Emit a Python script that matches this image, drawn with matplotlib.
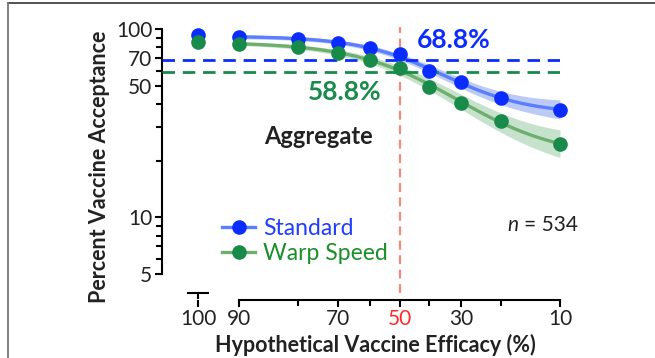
import matplotlib
matplotlib.use("Agg")
import matplotlib.pyplot as plt
import matplotlib.ticker as mticker
import matplotlib.transforms as mtransforms
from matplotlib.lines import Line2D
import numpy as np

# Datos
efficacy = [100, 90, 80, 70, 60, 50, 40, 30, 20, 10]
standard = [93.0, 91.0, 88.5, 84.0, 79.0, 73.5, 60.2, 52.0, 43.0, 37.3]
warp = [85.7, 83.3, 80.0, 74.9, 68.5, 61.9, 49.5, 40.4, 32.3, 24.6]

# semi-ancho de la banda de confianza (log10) para 90..10
standard_ci = [0.010, 0.011, 0.012, 0.014, 0.016, 0.019, 0.026, 0.037, 0.050]
warp_ci = [0.010, 0.012, 0.016, 0.018, 0.021, 0.032, 0.042, 0.053, 0.072]

standard_50 = 68.8
warp_50 = 58.8
n_total = 534

BLUE = "#0a2cff"
GREEN = "#188a4a"
BLUE_LINE = "#5b7dff"
GREEN_LINE = "#6cb06c"
BLUE_BAND = "#bccaf6"
GREEN_BAND = "#c6e2cd"
RED = "#f4897c"

plt.rcParams['font.family'] = ['Lato', 'DejaVu Sans']

W, H = 655, 358
def fx(px):
    return px / W
def fy(py):
    return 1 - py / H

# escala logit para 10..90 y tramo lineal para el punto de 100
L90 = np.log(0.9 / 0.1)
K = 0.0563
def fwd(x):
    x = np.asarray(x, dtype=float)
    p = np.clip(x / 100.0, 1e-6, 0.9)
    lg = np.log(p / (1 - p))
    return np.where(x > 90, L90 + (x - 90) * K, lg)

def inv(y):
    y = np.asarray(y, dtype=float)
    lin = 90 + (y - L90) / K
    yc = np.clip(y, -50, L90)
    lg = 100.0 / (1 + np.exp(-yc))
    return np.where(y > L90, lin, lg)

# ajuste sigmoide: log10(y) = a + b*tanh(c*(t-d))
def fit_sigmoid(t, v):
    best = None
    for c in np.linspace(0.2, 3.0, 57):
        for d in np.linspace(-3, 3, 121):
            A = np.column_stack([np.ones_like(t), np.tanh(c * (t - d))])
            coef, res, *_ = np.linalg.lstsq(A, v, rcond=None)
            r = np.sum((A @ coef - v) ** 2)
            if best is None or r < best[0]:
                best = (r, coef[0], coef[1], c, d)
    return best[1:]

fig = plt.figure(figsize=(6.55, 3.58), dpi=100)
ax = fig.add_axes([fx(162), fy(274), (560 - 162) / W, (274 - 29) / H])
ax.set_xscale('function', functions=(fwd, inv))
ax.set_yscale('log')
ax.set_xlim(108.8, 10)
ax.set_ylim(5, 100)

eff = np.array(efficacy[1:], dtype=float)
t = np.log((eff / 100) / (1 - eff / 100))
tt = np.linspace(t.max(), t.min(), 200)
eff_d = 100 / (1 + np.exp(-tt))

for vals, ci, lc, bc in [(standard, standard_ci, BLUE_LINE, BLUE_BAND),
                         (warp, warp_ci, GREEN_LINE, GREEN_BAND)]:
    a, b, c, d = fit_sigmoid(t, np.log10(vals[1:]))
    m = a + b * np.tanh(c * (tt - d))
    h = np.polyval(np.polyfit(t, ci, 2), tt)
    ax.fill_between(eff_d, 10 ** (m - h), 10 ** (m + h), color=bc, lw=0, zorder=1)
    ax.plot(eff_d, 10 ** m, color=lc, lw=2.4, zorder=2)

ax.axhline(standard_50, color=BLUE, lw=2, ls=(0, (4.5, 2.8)), zorder=3)
ax.axhline(warp_50, color=GREEN, lw=2, ls=(0, (4.5, 2.8)), zorder=3)
ax.axvline(50, ymin=0 - 19 / 245, ymax=1.01, color=RED, lw=1.6,
           ls=(0, (4, 2.5)), clip_on=False, zorder=3)

ax.plot(efficacy, standard, 'o', color=BLUE, ms=9.5, zorder=5, clip_on=False)
ax.plot(efficacy, warp, 'o', color=GREEN, ms=9.5, zorder=5, clip_on=False)

# ejes estilo prism
for s in ['top', 'right']:
    ax.spines[s].set_visible(False)
ax.spines['left'].set_linewidth(1.5)
ax.spines['bottom'].set_linewidth(1.5)
ax.spines['bottom'].set_position(('outward', 19))
ax.spines['bottom'].set_bounds(90, 10)
ax.spines['left'].set_bounds(5, 100)

# tramo corto del eje para el 100
off = ax.get_xaxis_transform() + mtransforms.ScaledTranslation(0, -19 / 100, fig.dpi_scale_trans)
ax.plot([97.5, 102.5], [0, 0], color='black', lw=1.5, transform=off, clip_on=False)
ax.plot([100, 100], [0, -0.022], color='black', lw=1.5, transform=off, clip_on=False)

ax.xaxis.set_major_locator(mticker.FixedLocator([100, 90, 70, 50, 30, 10]))
ax.xaxis.set_minor_locator(mticker.FixedLocator([80, 60, 40, 20]))
ax.xaxis.set_major_formatter(mticker.FixedFormatter(['100', '90', '70', '50', '30', '10']))
ax.xaxis.set_minor_formatter(mticker.NullFormatter())
ax.yaxis.set_major_locator(mticker.FixedLocator([5, 10, 50, 70, 100]))
ax.yaxis.set_minor_locator(mticker.FixedLocator([6, 7, 8, 9, 20, 30, 40, 60, 80, 90]))
ax.yaxis.set_major_formatter(mticker.FixedFormatter(['5', '10', '50', '70', '100']))
ax.yaxis.set_minor_formatter(mticker.NullFormatter())
ax.tick_params(which='major', length=5, width=1.5, labelsize=15, colors='black',
               labelcolor='#222222', pad=2)
ax.tick_params(axis='x', which='major', pad=1)
ax.tick_params(which='minor', length=4, width=1.5)
for lab in ax.get_xticklabels():
    if lab.get_text() == '50':
        lab.set_color('#ff2a2a')

fig.text(fx(375), fy(345), 'Hypothetical Vaccine Efficacy (%)', fontsize=15.5,
         fontweight='bold', color='#222222', ha='center', va='center')
fig.text(fx(100), fy(167), 'Percent Vaccine Acceptance', rotation=90, fontsize=15.5,
         fontweight='bold', color='#222222', ha='center', va='center')

fig.text(fx(417), fy(40), f'{standard_50}%', color=BLUE, fontsize=19, fontweight='bold',
         ha='left', va='center')
fig.text(fx(382), fy(92), f'{warp_50}%', color=GREEN, fontsize=19, fontweight='bold',
         ha='right', va='center')
fig.text(fx(318), fy(136), 'Aggregate', color='#222222', fontsize=17, fontweight='bold',
         ha='center', va='center')
fig.text(fx(507), fy(225), 'n', color='#222222', fontsize=15, fontstyle='italic',
         ha='left', va='center')
fig.text(fx(578), fy(225), f'= {n_total}', color='#222222', fontsize=15,
         ha='right', va='center')

h1 = Line2D([], [], color=BLUE_LINE, lw=2.4, marker='o', ms=9.5, mfc=BLUE, mec=BLUE)
h2 = Line2D([], [], color=GREEN_LINE, lw=2.4, marker='o', ms=9.5, mfc=GREEN, mec=GREEN)
leg = ax.legend([h1, h2], ['Standard', 'Warp Speed'], loc='center left',
                bbox_to_anchor=((222 - 162) / 398, (274 - 241) / 245), frameon=False,
                fontsize=16.5, handlelength=1.45, handletextpad=0.35, labelspacing=0.15,
                borderpad=0, borderaxespad=0)
leg.get_texts()[0].set_color('#1f3cff')
leg.get_texts()[1].set_color('#1a8f2a')

# marco de la figura
fig.add_artist(Line2D([fx(8), 1], [fy(3), fy(3)], transform=fig.transFigure,
                      color='#444444', lw=1.3))
fig.add_artist(Line2D([fx(8), fx(8)], [fy(3), 0], transform=fig.transFigure,
                      color='#777777', lw=1.3))

fig.savefig('out.png', dpi=100)
